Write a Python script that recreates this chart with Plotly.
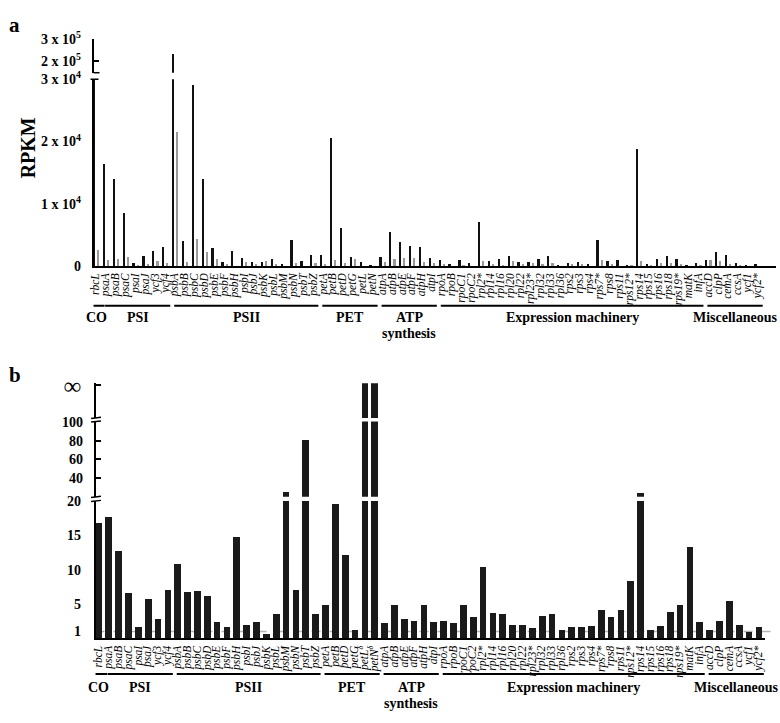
import math
import plotly.graph_objects as go

# ---------------- data ----------------
genes = ["rbcL", "psaA", "psaB", "psaC", "psaI", "psaJ", "ycf3", "ycf4",
         "psbA", "psbB", "psbC", "psbD", "psbE", "psbF", "psbH", "psbI", "psbJ", "psbK",
         "psbL", "psbM", "psbN", "psbT", "psbZ",
         "petA", "petB", "petD", "petG", "petL", "petN",
         "atpA", "atpB", "atpE", "atpF", "atpH", "atpI",
         "rpoA", "rpoB", "rpoC1", "rpoC2", "rpl2*", "rpl14", "rpl16", "rpl20", "rpl22",
         "rpl23*", "rpl32", "rpl33", "rpl36",
         "rps2", "rps3", "rps4", "rps7*", "rps8", "rps11", "rps12*", "rps14", "rps15",
         "rps16", "rps18", "rps19*", "matK", "infA",
         "accD", "clpP", "cemA", "ccsA", "ycf1", "ycf2*"]

labels_b = genes[:27] + ["petL<sup>δ</sup>", "petN<sup>δ</sup>"] + genes[29:]

rpkm_black = [30000, 16300, 13900, 8500, 400, 1550, 2400, 3000,
              232000, 3950, 29000, 14000, 2900, 550, 2350, 1200, 550, 660,
              1020, 240, 4150, 810, 1800,
              1800, 20600, 6000, 1450, 550, 40,
              1400, 5500, 3850, 3250, 3000, 1200,
              900, 240, 860, 500, 7000, 810, 1020, 1550, 600,
              660, 1130, 1550, 100,
              500, 550, 230, 4150, 700, 900, 50, 18800, 340,
              1130, 1500, 1130, 50, 500,
              970, 2270, 1750, 390, 50, 180]

rpkm_gray = [2500, 860, 1020, 1330, 100, 250, 750, 390,
             21500, 660, 4250, 2200, 1070, 280, 0, 550, 230, 810,
             280, 0, 500, 0, 390,
             340, 970, 440, 1020, 0, 0,
             600, 1070, 1280, 1180, 600, 390,
             230, 0, 50, 0, 700, 230, 100, 700, 230,
             390, 280, 390, 0,
             230, 230, 0, 860, 180, 0, 50, 750, 100,
             500, 390, 180, 0, 100,
             860, 810, 230, 100, 0, 0]

ratio = [16.8, 17.7, 12.8, 6.6, 1.7, 5.8, 2.9, 7.1,
         10.8, 6.7, 6.9, 6.2, 2.4, 1.7, 14.8, 2.0, 2.4, 0.7,
         3.5, 24.5, 7.0, 80, 3.5,
         4.9, 19.6, 12.1, 1.3, math.inf, math.inf,
         2.2, 4.9, 2.8, 2.5, 4.9, 2.4,
         2.6, 2.2, 4.9, 3.1, 10.4, 3.7, 3.6, 2.0, 2.0,
         1.5, 3.2, 3.5, 1.2,
         1.7, 1.6, 1.85, 4.2, 3.1, 4.2, 8.4, 24.0, 1.3,
         1.85, 3.8, 4.8, 13.3, 2.4,
         1.3, 2.5, 5.4, 2.0, 0.95, 1.6]

group_names = ["CO", "PSI", "PSII", "PET", "ATP\nsynthesis", "Expression machinery", "Miscellaneous"]
group_first = [0, 1, 8, 23, 29, 35, 62]
group_last = [0, 7, 22, 28, 34, 61, 67]

ticks_a_low = [0, 10000, 20000, 30000]
ticks_a_low_text = ["0", "1 x 10<sup>4</sup>", "2 x 10<sup>4</sup>", "3 x 10<sup>4</sup>"]
ticks_a_up = [200000, 300000]
ticks_a_up_text = ["2 x 10<sup>5</sup>", "3 x 10<sup>5</sup>"]
ticks_b_low = [1, 5, 10, 15, 20]
ticks_b_mid = [40, 60, 80, 100]

# ---------------- helpers ----------------
W, H = 780, 723
def fx(px):
    return px / W
def fy(py):
    return 1 - py / H

SERIF = "Liberation Serif"
idx = list(range(len(genes)))
BLACK = "#111111"
GRAY = "#9a9a9a"

fig = go.Figure()

# ---- panel a: both sections ----
for xa, ya in (("x", "y"), ("x2", "y2")):
    fig.add_trace(go.Bar(x=idx, y=rpkm_black, marker_color=BLACK, marker_line_width=0,
                         width=0.23, offset=-0.33, xaxis=xa, yaxis=ya, showlegend=False))
    fig.add_trace(go.Bar(x=idx, y=rpkm_gray, marker_color=GRAY, marker_line_width=0,
                         width=0.22, offset=0.1, xaxis=xa, yaxis=ya, showlegend=False))

# ---- panel b: three sections ----
disp = [v if math.isfinite(v) else 1e6 for v in ratio]
top = [1 if not math.isfinite(v) else None for v in ratio]
for xa, ya, vals in (("x3", "y3", disp), ("x4", "y4", disp), ("x5", "y5", top)):
    fig.add_trace(go.Bar(x=idx, y=vals, marker_color="#1a1a1a", marker_line_width=0,
                         width=0.68, xaxis=xa, yaxis=ya, showlegend=False))

tickfont_x = dict(family=SERIF, size=11.5, color="black", style="italic")
tickfont_y = dict(family=SERIF, size=14, color="black", weight="bold")

axcommon = dict(showgrid=False, zeroline=False, fixedrange=True)

fig.update_layout(
    width=W, height=H, margin=dict(l=0, r=0, t=0, b=0),
    paper_bgcolor="white", plot_bgcolor="white", bargap=0,
    xaxis=dict(domain=[fx(90), fx(776)], range=[-0.22, 68.9], anchor="y",
               showline=True, linecolor="black", linewidth=1.5,
               tickmode="array", tickvals=idx, ticktext=genes, tickangle=-90,
               ticks="", tickfont=tickfont_x, ticklabelstandoff=1, **axcommon),
    yaxis=dict(domain=[fy(262.5), fy(71)], range=[0, 30000], anchor="x",
               showline=True, linecolor="black", linewidth=1.5,
               tickmode="array", tickvals=ticks_a_low, ticktext=ticks_a_low_text,
               ticks="", tickfont=tickfont_y, ticklabelstandoff=8, **axcommon),
    xaxis2=dict(domain=[fx(90), fx(776)], range=[-0.22, 68.9], anchor="y2",
                visible=False, **axcommon),
    yaxis2=dict(domain=[fy(64.3), fy(29.3)], range=[147800, 300500], anchor="x2",
                showline=True, linecolor="black", linewidth=1.5,
                tickmode="array", tickvals=ticks_a_up, ticktext=ticks_a_up_text,
                ticks="inside", ticklen=6, tickwidth=1.5, tickcolor="black",
                tickfont=tickfont_y, ticklabelstandoff=8, **axcommon),
    xaxis3=dict(domain=[fx(92), fx(765)], range=[-0.3, 67.68], anchor="y3",
                showline=True, linecolor="black", linewidth=1.5,
                tickmode="array", tickvals=idx, ticktext=labels_b, tickangle=-90,
                ticks="", tickfont=tickfont_x, ticklabelstandoff=1, **axcommon),
    yaxis3=dict(domain=[fy(644.5), fy(503.5)], range=[0, 20], anchor="x3",
                showline=True, linecolor="black", linewidth=1.5,
                tickmode="array", tickvals=ticks_b_low,
                ticks="", tickfont=tickfont_y, ticklabelstandoff=10, **axcommon),
    xaxis4=dict(domain=[fx(92), fx(765)], range=[-0.3, 67.68], anchor="y4",
                visible=False, **axcommon),
    yaxis4=dict(domain=[fy(499.3), fy(422)], range=[20, 100.5], anchor="x4",
                showline=True, linecolor="black", linewidth=1.5,
                tickmode="array", tickvals=ticks_b_mid,
                ticks="inside", ticklen=6, tickwidth=1.5, tickcolor="black",
                tickfont=tickfont_y, ticklabelstandoff=8, **axcommon),
    xaxis5=dict(domain=[fx(92), fx(765)], range=[-0.3, 67.68], anchor="y5",
                visible=False, **axcommon),
    yaxis5=dict(domain=[fy(418.3), fy(382.7)], range=[0, 1], anchor="x5",
                showline=True, linecolor="black", linewidth=1.5,
                tickmode="array", tickvals=[0.935], ticktext=["∞"],
                ticks="inside", ticklen=6, tickwidth=1.5, tickcolor="black",
                tickfont=dict(family=SERIF, size=24, color="black", weight="bold"),
                ticklabelstandoff=8, **axcommon),
)

shapes = []
# reference line at ratio 1
shapes.append(dict(type="line", xref="x3 domain", yref="y3", x0=0, x1=1.01, y0=1, y1=1,
                   line=dict(color="#b5b5b5", width=1.5, dash="dash"), layer="below"))
# break marks panel b
for py in (499.3, 503.5, 418.3, 422.0):
    shapes.append(dict(type="line", xref="paper", yref="paper", x0=fx(87.5), x1=fx(97.5),
                       y0=fy(py + 0.6), y1=fy(py - 0.6), line=dict(color="black", width=1.5)))
# panel a break ends
shapes.append(dict(type="line", xref="paper", yref="paper", x0=fx(87), x1=fx(95),
                   y0=fy(71), y1=fy(71), line=dict(color="black", width=1.5)))
shapes.append(dict(type="line", xref="paper", yref="paper", x0=fx(90), x1=fx(96),
                   y0=fy(64.3), y1=fy(64.3), line=dict(color="black", width=1.5)))

annotations = []
# group lines / labels
for (xr, line_y, text_y) in (("x", 303.3, 315.5), ("x3", 681.0, 695.0)):
    for name, f, l in zip(group_names, group_first, group_last):
        x0, x1 = f - 0.05, l + 0.55
        if f == l:
            x0, x1 = f - 0.8, l + 0.9
        shapes.append(dict(type="line", xref=xr, yref="paper", x0=x0, x1=x1,
                           y0=fy(line_y), y1=fy(line_y), line=dict(color="black", width=2)))
        for k, part in enumerate(name.split("\n")):
            annotations.append(dict(xref=xr, yref="paper", x=(x0 + x1) / 2,
                                    y=fy(text_y + 16.5 * k), text=part, showarrow=False,
                                    xanchor="center", yanchor="middle",
                                    font=dict(family=SERIF, size=14, color="black", weight="bold")))

annotations.append(dict(xref="paper", yref="paper", x=fx(3), y=fy(1), text="a",
                        showarrow=False, xanchor="left", yanchor="top",
                        font=dict(family=SERIF, size=21, color="black", weight="bold")))
annotations.append(dict(xref="paper", yref="paper", x=fx(3), y=fy(360), text="b",
                        showarrow=False, xanchor="left", yanchor="top",
                        font=dict(family=SERIF, size=21, color="black", weight="bold")))
annotations.append(dict(xref="paper", yref="paper", x=fx(25), y=fy(141), text="RPKM",
                        showarrow=False, textangle=-90, xanchor="center", yanchor="middle",
                        font=dict(family=SERIF, size=20, color="black", weight="bold")))

fig.update_layout(shapes=shapes, annotations=annotations)

fig.write_html("out.html", config={"displayModeBar": False},
               post_script="document.body.style.margin='0';")
